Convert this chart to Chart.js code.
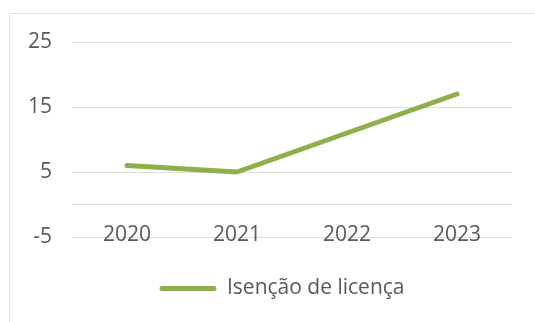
<!DOCTYPE html>
<html>
<head>
<meta charset="utf-8">
<script src="https://cdn.jsdelivr.net/npm/chart.js@4"></script>
<style>
  html, body { margin: 0; padding: 0; background: #fff; }
  #wrap { position: relative; width: 535px; height: 322px; }
  #frame { position: absolute; left: 9px; top: 13px; right: -2px; bottom: -2px;
           border-left: 1px solid #e3e3e3; border-top: 1px solid #e3e3e3; }
  canvas { position: absolute; left: 0; top: 0; }
</style>
</head>
<body>
<div id="wrap">
  <div id="frame"></div>
  <canvas id="chart" width="535" height="322"></canvas>
</div>
<script>
// series data
var years  = [ '2020', '2021', '2022', '2023' ];
var values = [ 6, 5, 11, 17 ];
var yTicks = [ -5, 0, 5, 15, 25 ];
var seriesLabel = 'Isenção de licença';

var lineColor = '#8db04c';
var textColor = '#595959';
var font = { family: 'Open Sans', size: 21 };

// the category labels sit on the bottom gridline, so the legend is pushed
// down below them and a little right of centre
var legendShift = {
	id : 'legendShift',
	afterLayout : function ( chart ) {
		var lg = chart.legend;
		lg.left   += 26;
		lg.right  += 26;
		lg.top    += 31;
		lg.bottom += 31;
	},
};

new Chart( document.getElementById( 'chart' ), {
	type : 'line',
	data : {
		labels   : years,
		datasets : [ {
			label           : seriesLabel,
			data            : values,
			borderColor     : lineColor,
			backgroundColor : lineColor,
			borderWidth     : 5,
			borderCapStyle  : 'round',
			borderJoinStyle : 'round',
			pointRadius     : 0,
			tension         : 0,
		} ],
	},
	plugins : [ legendShift ],
	options : {
		responsive : false,
		animation  : false,
		layout     : { padding : { top : 42, right : 23, bottom : 44, left : 0 } },
		plugins    : {
			legend : {
				position : 'bottom',
				labels   : {
					color          : textColor,
					font           : font,
					boxWidth       : 57,
					boxHeight      : 5,
					useBorderRadius: true,
					borderRadius   : 2.5,
					padding        : 10,
					// plain filled bar instead of the stroked box
					generateLabels : function ( chart ) {
						var items = Chart.defaults.plugins.legend.labels.generateLabels( chart );
						items.forEach( function ( it ) { it.lineWidth = 0; } );
						return items;
					},
				},
			},
			tooltip : { enabled : false },
		},
		scales : {
			x : {
				position : { y : -5 },
				offset   : true,
				border   : { display : false },
				grid     : { display : false, drawTicks : false },
				ticks    : { color : textColor, font : font, padding : -15 },
			},
			y : {
				min    : -5,
				max    : 25,
				border : { display : false },
				grid   : { color : '#dedede', lineWidth : 1, drawTicks : false },
				afterBuildTicks : function ( scale ) {
					scale.ticks = yTicks.map( function ( v ) { return { value : v }; } );
				},
				afterFit : function ( scale ) { scale.width = 72; },
				ticks  : {
					color    : textColor,
					font     : font,
					padding  : 20,
					callback : function ( v ) { return v === 0 ? '' : v; },
				},
			},
		},
	},
} );
</script>
</body>
</html>
